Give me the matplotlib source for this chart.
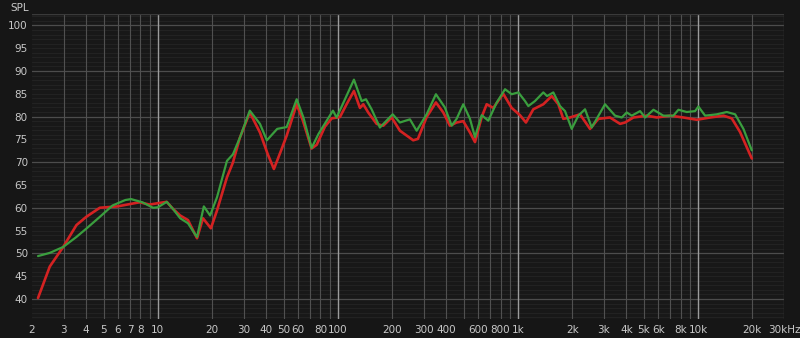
import numpy as np
import matplotlib
matplotlib.use("Agg")
import matplotlib.pyplot as plt

# frequency response readings (Hz, dB SPL)
red_f = [2.16, 2.51, 2.98, 3.53, 4.0, 4.76, 5.97, 7.9, 9.0, 10.0, 11.2, 12.1, 13.3, 14.7,
         16.5, 17.8, 19.7, 21.3, 24.2, 26.1, 28.5, 32.4, 36.9, 40.8, 44.1, 48.7, 51.9,
         59.0, 63.9, 71.4, 76.2, 84.7, 92.3, 102.6, 111.7, 122.7, 132.5, 138.3, 147.3,
         164, 178.6, 198.8, 220.9, 261.8, 278, 310.9, 350, 384.6, 418.8, 456, 496.6, 541,
         577, 628.5, 670, 729, 828, 922, 1026, 1107, 1216, 1382, 1539, 1675, 1785, 1945,
         2209, 2512, 2793, 3243, 3688, 3930, 4373, 5192, 5904, 6986, 8287, 9836, 11660,
         13840, 15390, 17110, 19870]
red_db = [40.2, 47.1, 51.4, 56.2, 58.0, 60.0, 60.3, 61.2, 60.7, 61.0, 61.3, 59.8, 58.3, 57.3,
          53.3, 57.7, 55.5, 59.4, 66.7, 69.9, 75.3, 80.9, 76.5, 71.7, 68.5, 72.9, 75.8,
          82.7, 79.1, 73.0, 73.8, 77.8, 79.6, 79.9, 82.7, 85.6, 81.9, 82.7, 80.9,
          78.4, 78.0, 79.8, 76.9, 74.8, 75.1, 79.9, 83.1, 80.9, 78.0, 78.7, 79.0, 76.5,
          74.4, 79.9, 82.7, 81.9, 85.0, 81.9, 80.3, 78.7, 81.6, 82.7, 84.5, 82.7, 79.5, 79.8,
          80.5, 77.3, 79.5, 79.8, 78.4, 78.7, 79.8, 80.2, 79.8, 80.2, 79.8, 79.3, 79.8,
          80.2, 79.6, 76.6, 70.8]

green_f = [2.16, 2.51, 2.98, 3.53, 4.0, 4.76, 5.6, 6.6, 7.1, 8.2, 9.4, 10.0, 11.2, 12.1,
           13.3, 14.7, 16.2, 16.5, 18.0, 19.5, 21.3, 24.2, 26.1, 28.5, 32.4, 36.9, 40.3,
           46.0, 51.9, 59.0, 64.3, 71.4, 78.0, 93.8, 98.3, 109.4, 122.7, 135.4, 143.1,
           153.8, 171, 201.4, 220.9, 251, 273.6, 310.9, 350, 392.6, 428.2, 456, 496.6,
           541, 577, 628.5, 684, 762, 847, 922, 1004, 1094, 1141, 1242, 1382, 1450, 1571,
           1711, 1824, 1987, 2163, 2356, 2566, 3042, 3459, 3768, 4016, 4282, 4764, 5080,
           5652, 6418, 7291, 7776, 8653, 9622, 10040, 10940, 12710, 14440, 16060, 17860,
           19870]
green_db = [49.4, 50.1, 51.4, 53.6, 55.4, 58.0, 60.5, 61.7, 61.9, 61.2, 60.0, 60.1, 61.3, 59.8,
            57.7, 56.6, 54.0, 53.6, 60.3, 58.3, 62.3, 70.3, 71.7, 75.3, 81.3, 78.4, 74.8,
            77.3, 77.7, 83.8, 79.8, 73.1, 76.2, 81.3, 79.8, 83.8, 88.1, 83.4, 83.8,
            81.6, 77.6, 80.5, 78.7, 79.4, 76.9, 80.5, 84.9, 82.0, 78.0, 79.5, 82.7,
            79.5, 75.5, 80.3, 79.1, 83.1, 86.0, 84.9, 85.3, 83.4, 82.3, 83.4, 85.3, 84.5, 85.3,
            82.3, 81.2, 77.3, 80.2, 81.6, 77.6, 82.7, 80.2, 79.8, 80.9, 80.2, 81.2, 79.8,
            81.5, 80.2, 80.2, 81.5, 81.0, 81.2, 82.2, 80.2, 80.5, 81.0, 80.5, 77.3,
            72.6]

x_ticks = [2, 3, 4, 5, 6, 7, 8, 10, 20, 30, 40, 50, 60, 80, 100, 200, 300, 400, 600, 800,
           1000, 2000, 3000, 4000, 5000, 6000, 8000, 10000, 20000, 30000]
x_labels = ["2", "3", "4", "5", "6", "7", "8", "10", "20", "30", "40", "50", "60", "80",
            "100", "200", "300", "400", "600", "800", "1k", "2k", "3k", "4k", "5k", "6k",
            "8k", "10k", "20k", "30kHz"]
y_ticks = [40, 45, 50, 55, 60, 65, 70, 75, 80, 85, 90, 95, 100]

fig = plt.figure(figsize=(8, 3.38), dpi=100, facecolor="#161616")
ax = fig.add_axes([0.04, 0.0562, 0.94, 0.9024], facecolor="#181818")
ax.set_xscale("log")
ax.set_xlim(2, 30000)
ax.set_ylim(35.6, 102.5)

# grid
for d in np.arange(36, 103, 1):
    if d % 10 == 0:
        c, lw = "#4c4c4c", 0.9
    else:
        c, lw = "#242424", 0.6
    ax.axhline(d, color=c, lw=lw, zorder=0)
for dec in [1, 10, 100, 1000, 10000]:
    for m in range(1, 10):
        f = dec * m
        if f <= 2 or f >= 30000:
            continue
        if m == 1:
            ax.axvline(f, color="#9c9c9c", lw=1.0, zorder=0)
        else:
            ax.axvline(f, color="#505050", lw=0.8, zorder=0)
ax.axhline(102.5, color="#3a3a3a", lw=1.0, zorder=0)
ax.axvline(30000, color="#3a3a3a", lw=1.0, zorder=0)

ax.plot(red_f, red_db, color="#d42222", lw=1.9, zorder=3,
        solid_joinstyle="round", solid_capstyle="round")
ax.plot(green_f, green_db, color="#3a9e3e", lw=1.6, zorder=4,
        solid_joinstyle="round", solid_capstyle="round")

ax.xaxis.set_major_locator(matplotlib.ticker.FixedLocator(x_ticks))
ax.xaxis.set_minor_locator(matplotlib.ticker.NullLocator())
ax.set_xticklabels(x_labels)
ax.set_yticks(y_ticks)
ax.set_yticklabels([str(v) for v in y_ticks])
ax.tick_params(axis="both", length=0, colors="#c8c8c8", labelsize=7.5)
ax.tick_params(axis="x", pad=4)
ax.tick_params(axis="y", pad=3)
for s in ax.spines.values():
    s.set_visible(False)

fig.text(0.013, 0.975, "SPL", color="#c8c8c8", fontsize=7.5, va="center", ha="left")

fig.savefig("out.png", dpi=100, facecolor=fig.get_facecolor())
